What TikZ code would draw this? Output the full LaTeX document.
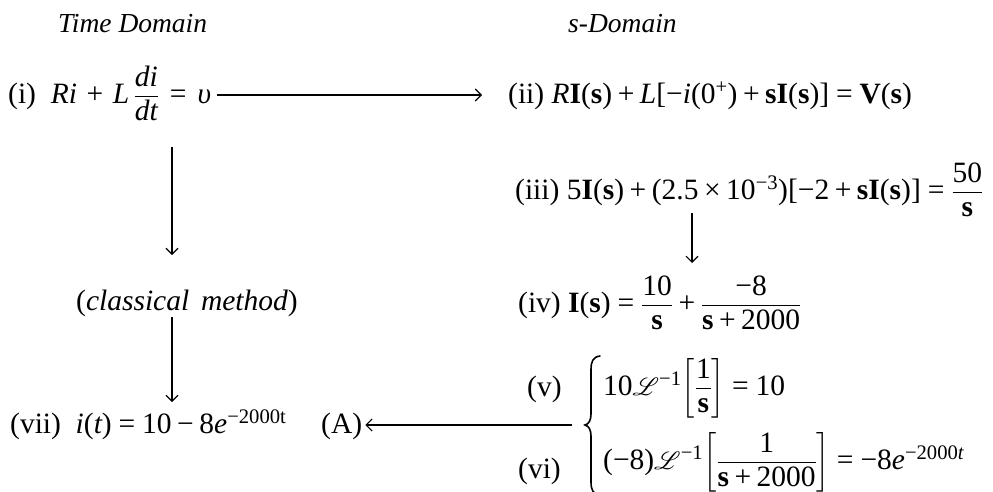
\documentclass[tikz,border=0pt]{standalone}
\usepackage{amsmath}
\usepackage{mathrsfs}
\usepackage[no-math]{fontspec}
\setmainfont{Liberation Serif}[NFSSFamily=libser]
% math letters, digits and basic symbols from the text serif
\DeclareSymbolFont{tletters}{TU}{libser}{m}{it}
\DeclareSymbolFont{tdigits}{TU}{libser}{m}{n}
\DeclareMathAlphabet{\mathbf}{TU}{libser}{b}{n}
\DeclareMathAlphabet{\mathrm}{TU}{libser}{m}{n}
\makeatletter
\@for\ltr:=a,b,c,d,e,f,g,h,i,j,k,l,m,n,o,p,q,r,s,t,u,v,w,x,y,z,A,B,C,D,E,F,G,H,I,J,K,L,M,N,O,P,Q,R,S,T,U,V,W,X,Y,Z\do{%
  \Umathcode\expandafter`\ltr="7 \symtletters \expandafter`\ltr\relax}
\@for\ltr:=0,1,2,3,4,5,6,7,8,9,.\do{%
  \Umathcode\expandafter`\ltr="7 \symtdigits \expandafter`\ltr\relax}
\makeatother
\Umathcode`(="4 \symtdigits `(
\Umathcode`)="5 \symtdigits `)
\Umathcode`[="4 \symtdigits `[
\Umathcode`]="5 \symtdigits `]
\Umathcode`+="2 \symtdigits `+
\Umathcode`=="3 \symtdigits `=
\Umathcode`-="2 \symtdigits "2212
\Umathchardef\times="2 \symtdigits "D7
\Umathchardef\upsilon="7 \symtletters "3C5
\usetikzlibrary{arrows.meta}
\tikzset{
  txt/.style={inner sep=0pt, anchor=base west, font=\fontsize{29.5}{35}\selectfont},
  head/.style={inner sep=0pt, anchor=base west, font=\fontsize{27.5}{33}\selectfont\itshape},
  arr/.style={line width=1.1pt, -{Straight Barb[length=6pt,width=12pt,line width=1.1pt]}},
  bracestroke/.style={line width=1.6pt, line cap=round}
}
\begin{document}
\begin{tikzpicture}[x=1pt,y=-1pt]
\useasboundingbox (0,0) rectangle (993,491);
% headings
\node[head] (td) at (58,32) {Time Domain};
\node[head] (sd) at (568,32) {s-Domain};
% equations
\node[txt] (e1) at (8,103) {(i)\enspace $\medmuskip=7mu\thickmuskip=8mu Ri + L\,\dfrac{di}{dt} = \upsilon$};
\node[txt] (e2) at (508,103) {(ii) $R\mathbf{I}(\mathbf{s}) + L[-i(0^{+}) + \mathbf{sI}(\mathbf{s})] = \mathbf{V}(\mathbf{s})$};
\node[txt] (e3) at (515,199) {(iii) $5\mathbf{I}(\mathbf{s}) + (2.5\times10^{-3})[-2+\mathbf{sI}(\mathbf{s})] = \dfrac{50}{\mathbf{s}}$};
\node[txt] (e4) at (518,312) {(iv) $\mathbf{I}(\mathbf{s}) = \dfrac{10}{\mathbf{s}} + \dfrac{-8}{\mathbf{s}+2000}$};
\node[txt] (cm) at (76,310) {$(classical\hspace{0.4em}method)$};
\node[txt] (e7) at (10,433) {(vii)\enspace $i(t) = 10 - 8e^{-2000\mathrm{t}}$};
\node[txt] (A) at (321,433) {(A)};
\node[txt] (l5) at (527,396) {(v)};
\node[txt] (l6) at (518,478) {(vi)};
\node[txt] (e5) at (603,395) {$10\mathscr{L}^{-1}\!\left[\dfrac{1}{\mathbf{s}}\right] = 10$};
\node[txt] (e6) at (603,469) {$(-8)\mathscr{L}^{-1}\!\left[\dfrac{1}{\mathbf{s}+2000}\right] = -8e^{-2000t}$};
% curly brace
\draw[bracestroke] (600,356) .. controls (593,357) and (591,361) .. (591,370)
  -- (591,414) .. controls (591,420) and (589,424) .. (585,425)
  .. controls (589,426) and (591,430) .. (591,436)
  -- (591,482) .. controls (591,490) and (593,494) .. (600,495);
\coordinate (brtip) at (585,425);
% connector end points
\coordinate (v1a) at (172,147);
\coordinate (v1b) at (172,255);
\coordinate (v2a) at (172,317);
\coordinate (v2b) at (172,402);
\coordinate (v3a) at (692,213);
\coordinate (v3b) at (692,263);
% connectors
\draw[arr, shorten <=6pt, shorten >=26pt] ([yshift=8pt]e1.base east) -- ([yshift=8pt]e2.base west);
\draw[arr] (v1a) -- (v1b);
\draw[arr] (v2a) -- (v2b);
\draw[arr] (v3a) -- (v3b);
\draw[arr, shorten <=13pt, shorten >=3pt] (brtip) -- ([yshift=8pt]A.base east);
\end{tikzpicture}
\end{document}
